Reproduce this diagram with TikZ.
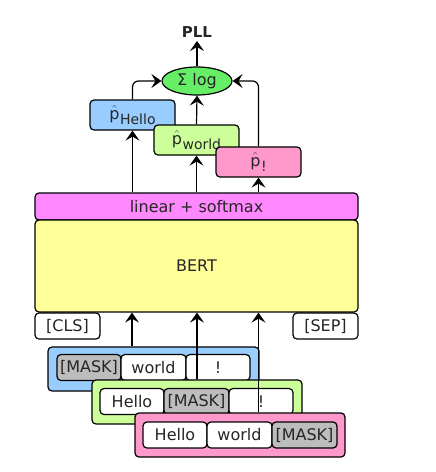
\documentclass[tikz,border=0pt]{standalone}
\usepackage{amsmath}
\usepackage{fontspec}
\setmainfont{DejaVu Sans}
\usetikzlibrary{shapes.geometric,arrows.meta}
\definecolor{cblue}{HTML}{99CCFF}
\definecolor{cgreen}{HTML}{CCFF99}
\definecolor{cpink}{HTML}{FF99CC}
\definecolor{cmag}{HTML}{FF88FF}
\definecolor{cyel}{HTML}{FFFF99}
\definecolor{cell}{HTML}{66EE66}
\definecolor{cgrey}{HTML}{BDBDBD}
\newcommand\phatlbl[1]{$\hat{\text{p}}$\kern0.5pt\raisebox{-5pt}{\fontsize{14}{14}\selectfont #1}}
\begin{document}
\begin{tikzpicture}[x=1pt,y=-1pt,
  every node/.style={font=\fontsize{16}{19}\selectfont, text=black!85},
  box/.style={draw, rounded corners=4pt, line width=1.2pt, inner sep=0pt},
  tok/.style={box, fill=white, minimum height=26pt},
  arr/.style={line width=1.2pt, -{Stealth[length=10pt,width=14pt,inset=4pt]}}]
\useasboundingbox (0,0) rectangle (436,472);
% top
\node[font=\fontsize{15}{18}\selectfont\bfseries] (pll) at (197,32) {PLL};
\node[ellipse, draw, line width=1.2pt, fill=cell, minimum width=70pt, minimum height=28pt, inner sep=0pt] (ell) at (197,81) {Σ log};
\node[box, fill=cblue, minimum width=85pt, minimum height=30pt] (ph) at (132.5,115) {\phatlbl{Hello}};
\node[box, fill=cgreen, minimum width=85pt, minimum height=30pt] (pw) at (196.5,140) {\phatlbl{world}};
\node[box, fill=cpink, minimum width=85pt, minimum height=30pt] (pe) at (258.5,162) {\phatlbl{!}};
% model
\node[box, fill=cmag, minimum width=323pt, minimum height=27pt] (lin) at (196.5,206.5) {linear + softmax};
\node[box, fill=cyel, minimum width=323pt, minimum height=92pt] (bert) at (196.5,266) {BERT};
\node[box, fill=white, minimum width=65pt, minimum height=26pt] (cls) at (67.5,326) {[CLS]};
\node[box, fill=white, minimum width=65pt, minimum height=26pt] (sep) at (325.5,326) {[SEP]};
% sentence 1
\node[box, fill=cblue, minimum width=211pt, minimum height=44pt] (s1) at (153.5,369) {};
\node[tok, fill=cgrey, minimum width=64pt] (a1) at (89,367.5) {[MASK]};
\node[tok, minimum width=65pt] (a2) at (153.5,367.5) {world};
\node[tok, minimum width=64pt] (a3) at (218,367.5) {!};
% sentence 2
\node[box, fill=cgreen, minimum width=210pt, minimum height=44pt] (s2) at (197,402) {};
\node[tok, minimum width=64pt] (b1) at (132,401.5) {Hello};
\node[tok, fill=cgrey, minimum width=65pt] (b2) at (196.5,401.5) {[MASK]};
\node[tok, minimum width=64pt] (b3) at (261,401.5) {!};
% sentence 3
\node[box, fill=cpink, minimum width=210pt, minimum height=44pt] (s3) at (240,435) {};
\node[tok, minimum width=64pt] (c1) at (175,435) {Hello};
\node[tok, minimum width=65pt] (c2) at (239.5,435) {world};
\node[tok, fill=cgrey, minimum width=65pt] (c3) at (304.5,435) {[MASK]};
% connectors
\draw[arr] (s1.north -| b1) -- (bert.south -| b1);
\draw[arr] (s2.north) -- (bert.south -| s2);
\draw[arr] (s3.north -| pe) -- (bert.south -| pe);
\draw[arr] (lin.north -| ph) -- (ph.south);
\draw[arr] (lin.north -| pw) -- (pw.south);
\draw[arr] (lin.north -| pe) -- (pe.south);
\draw[arr, rounded corners=6pt] (ph.north) |- (ell.west);
\draw[arr] (pw.north) -- (ell.south);
\draw[arr, rounded corners=6pt] (pe.north) |- (ell.east);
\draw[arr] (ell.north) -- (pll.south);
\end{tikzpicture}
\end{document}
